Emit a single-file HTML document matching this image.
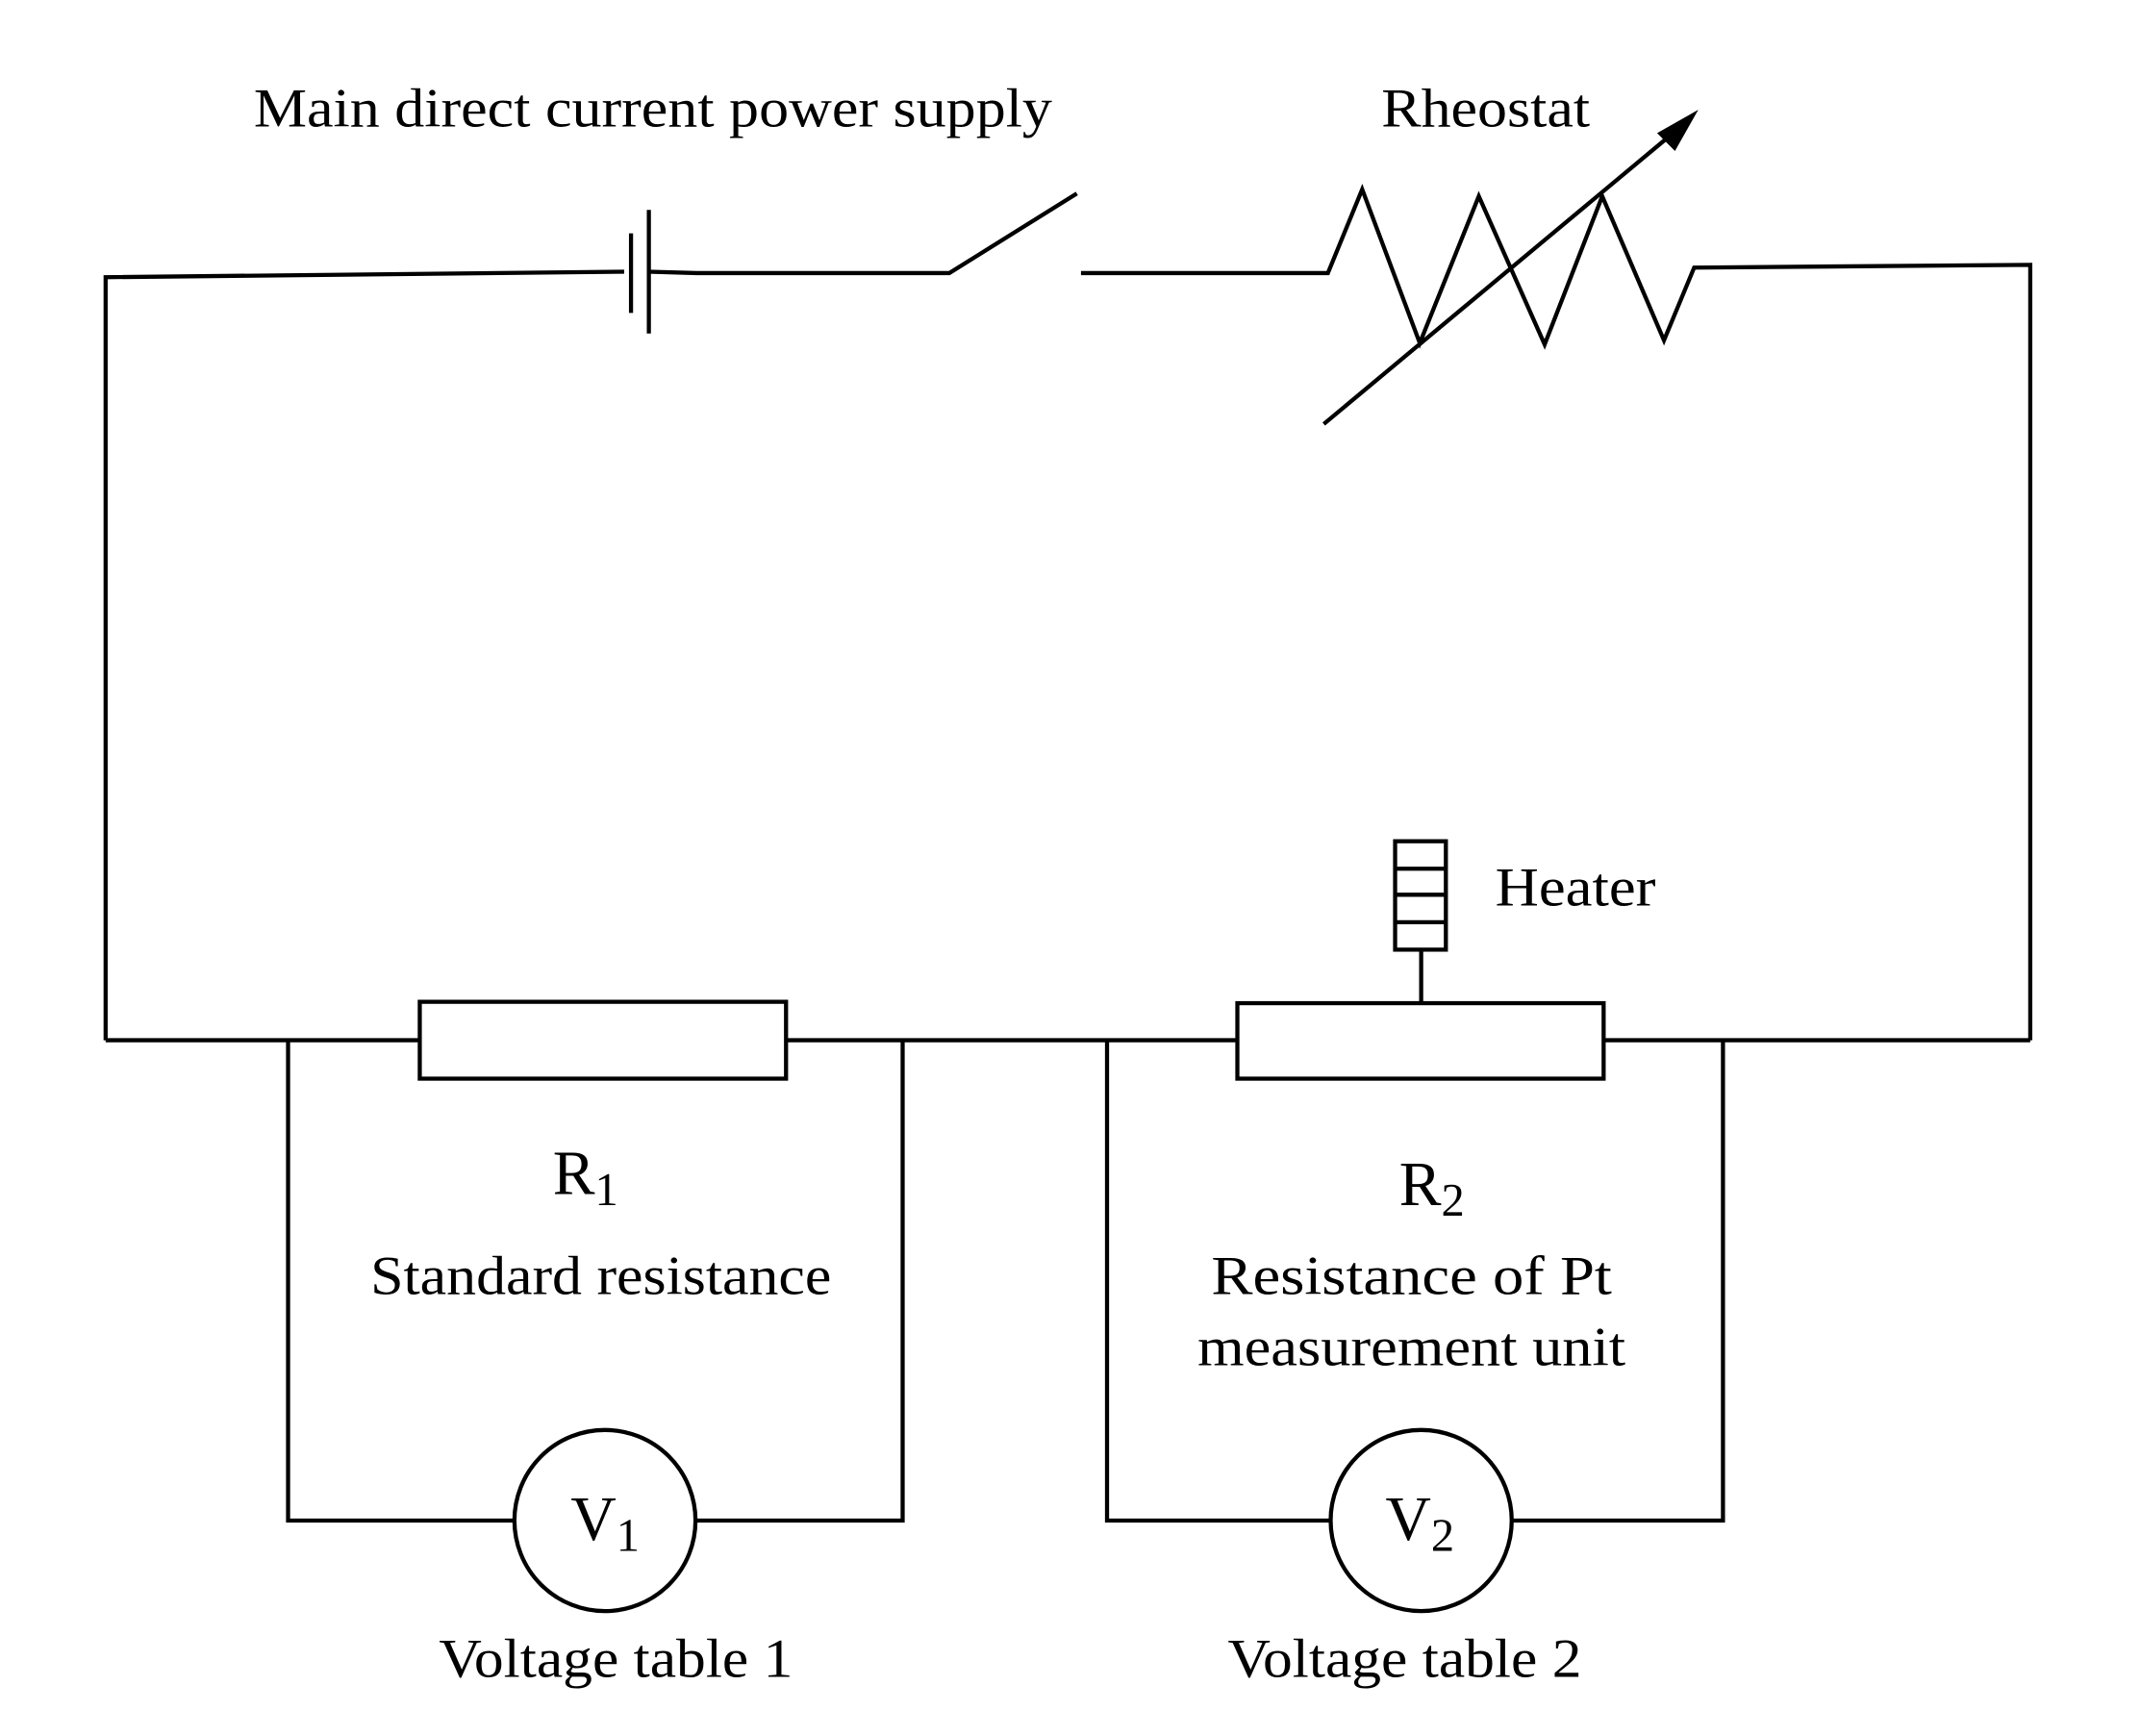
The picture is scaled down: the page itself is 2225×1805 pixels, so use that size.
<!DOCTYPE html>
<html><head><meta charset="utf-8"><style>html,body{margin:0;padding:0;background:#fff}svg{display:block}</style></head>
<body>
<svg width="2225" height="1805" viewBox="0 0 1560 1265" preserveAspectRatio="none" xmlns="http://www.w3.org/2000/svg">
<g fill="none" stroke="#000" stroke-width="3">
<polyline points="77,758 77,202 455,198"/>
<line x1="460" y1="170" x2="460" y2="228"/>
<line x1="473" y1="153" x2="473" y2="243"/>
<polyline points="473,198 508,199 692,199 785,141"/>
<polyline points="788,199 968,199 993,138 1035,250 1078,143 1126,251 1168,143 1213,248 1235,195 1480,193 1480,758"/>
<line x1="965" y1="309" x2="1222" y2="95"/>
<line x1="77" y1="758" x2="1480" y2="758"/>
<rect x="306" y="730" width="267" height="56" fill="#fff"/>
<rect x="902" y="731" width="267" height="55" fill="#fff"/>
<line x1="1036" y1="692" x2="1036" y2="731"/>
<rect x="1017" y="613" width="37" height="79" fill="#fff"/>
<line x1="1017" y1="633" x2="1054" y2="633"/>
<line x1="1017" y1="652" x2="1054" y2="652"/>
<line x1="1017" y1="672" x2="1054" y2="672"/>
<polyline points="210,758 210,1108 375,1108"/>
<polyline points="658,758 658,1108 508,1108"/>
<circle cx="441" cy="1108" r="66"/>
<polyline points="807,758 807,1108 970,1108"/>
<polyline points="1256,758 1256,1108 1102,1108"/>
<circle cx="1036" cy="1108" r="66"/>
</g>
<polygon points="1238,80 1208,97 1221,110" fill="#000"/>
<g font-family="Liberation Serif, serif" fill="#000" font-size="40">
<text x="185" y="92" textLength="582" lengthAdjust="spacingAndGlyphs">Main direct current power supply</text>
<text x="1007" y="92" textLength="152" lengthAdjust="spacingAndGlyphs">Rheostat</text>
<text x="1090" y="660" textLength="117" lengthAdjust="spacingAndGlyphs">Heater</text>
<text x="270" y="943" textLength="336" lengthAdjust="spacingAndGlyphs">Standard resistance</text>
<text x="883" y="943" textLength="292" lengthAdjust="spacingAndGlyphs">Resistance of  Pt</text>
<text x="873" y="995" textLength="312" lengthAdjust="spacingAndGlyphs">measurement unit</text>
<text x="320" y="1222" textLength="258" lengthAdjust="spacingAndGlyphs">Voltage table 1</text>
<text x="895" y="1222" textLength="258" lengthAdjust="spacingAndGlyphs">Voltage table 2</text>
<text x="403" y="870" font-size="46">R<tspan font-size="34" dy="8">1</tspan></text>
<text x="1020" y="878" font-size="46">R<tspan font-size="34" dy="8">2</tspan></text>
<text x="416" y="1122" font-size="46">V<tspan font-size="34" dy="8">1</tspan></text>
<text x="1010" y="1122" font-size="46">V<tspan font-size="34" dy="8">2</tspan></text>
</g>
</svg>
</body></html>
